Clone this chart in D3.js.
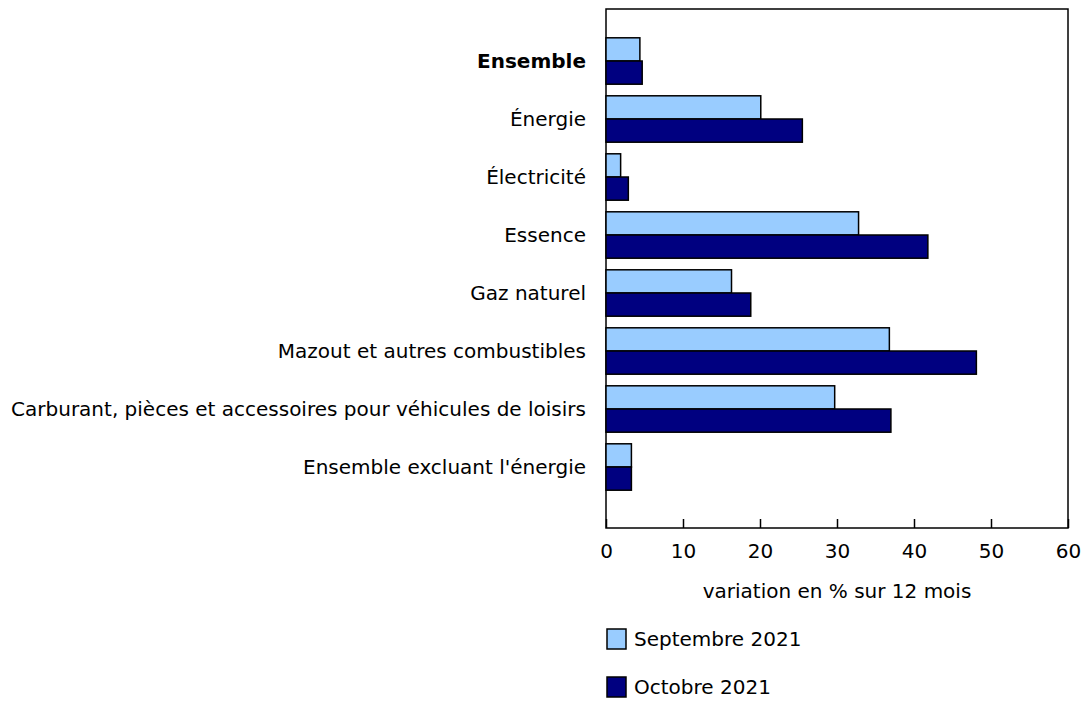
<!DOCTYPE html>
<html><head><meta charset="utf-8">
<script src="https://cdn.jsdelivr.net/npm/d3@7"></script>
<style>body{margin:0;background:#fff;} text{font-family:"DejaVu Sans",Verdana,sans-serif;font-size:20px;fill:#000;}</style>
</head><body><svg id="c" width="1085" height="703"></svg>
<script>
const categories = ["Ensemble","Énergie","Électricité","Essence","Gaz naturel","Mazout et autres combustibles","Carburant, pièces et accessoires pour véhicules de loisirs","Ensemble excluant l'énergie"];
const seriesNames = ["Septembre 2021","Octobre 2021"];
const september = [4.4,20.1,1.9,32.8,16.3,36.8,29.7,3.3];
const october = [4.7,25.5,2.9,41.8,18.8,48.1,37.0,3.3];
const xTicks = [0,10,20,30,40,50,60];
const colors = ["#99ccff","#000080"];
const axisTitle = "variation en % sur 12 mois";

const svg = d3.select("#c");
const L=606,R=1068,T=9,B=528;
const x = d3.scaleLinear().domain([0,60]).range([L,R]);
const y = d3.scaleBand().domain(categories).range([32,496]).paddingInner(0.2).paddingOuter(0.1);
const y2 = d3.scaleBand().domain([0,1]).range([0,y.bandwidth()]);

svg.append("rect").attr("x",L).attr("y",T).attr("width",R-L).attr("height",B-T).attr("fill","none").attr("stroke","#000").attr("stroke-width",1.5);

const series=[september,october];
categories.forEach((c,i)=>{
  series.forEach((s,j)=>{
    svg.append("rect").attr("x",x(0)).attr("y",y(c)+y2(j)).attr("width",x(s[i])-x(0)).attr("height",y2.bandwidth())
      .attr("fill",colors[j]).attr("stroke","#000").attr("stroke-width",1.5);
  });
  svg.append("text").attr("x",586).attr("y",y(c)+y.bandwidth()/2).attr("dy","0.35em").attr("text-anchor","end")
    .style("font-weight",i===0?"bold":"normal").text(c);
});

const ax = svg.append("g").attr("transform",`translate(0,${B})`).call(d3.axisBottom(x).tickValues(xTicks).tickSizeInner(-9).tickSizeOuter(0).tickPadding(16));
ax.select(".domain").remove();
ax.selectAll("line").attr("stroke","#000").attr("stroke-width",1.5);
ax.selectAll("text").attr("font-size",null).attr("font-family",null);

svg.append("text").attr("x",(L+R)/2).attr("y",591).attr("dy","0.35em").attr("text-anchor","middle").text(axisTitle);

seriesNames.forEach((n,j)=>{
  const yy=629+j*48;
  svg.append("rect").attr("x",607).attr("y",yy).attr("width",19).attr("height",20).attr("fill",colors[j]).attr("stroke","#000").attr("stroke-width",1.5);
  svg.append("text").attr("x",634).attr("y",yy+10).attr("dy","0.35em").text(n);
});
</script></body></html>
